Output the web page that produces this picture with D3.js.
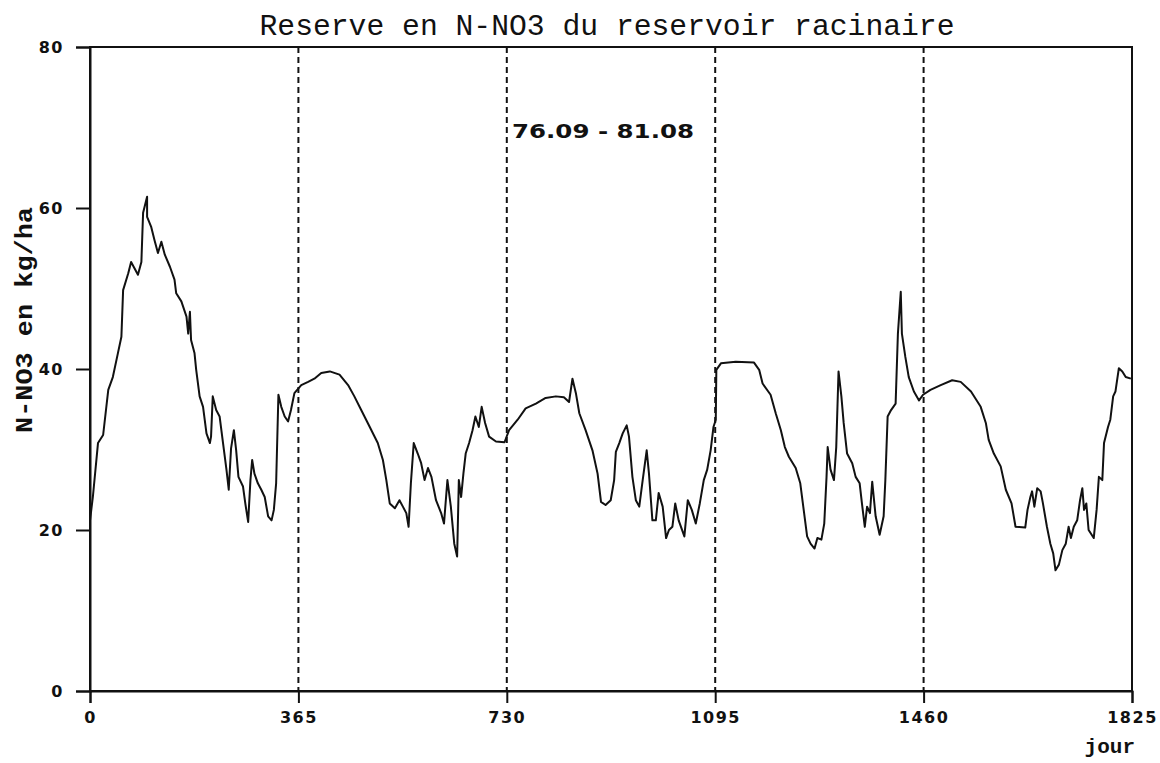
<!DOCTYPE html>
<html>
<head>
<meta charset="utf-8">
<script src="https://cdn.jsdelivr.net/npm/d3@7"></script>
<style>
  html, body { margin: 0; padding: 0; background: #fff; }
  svg { display: block; }
</style>
</head>
<body>
<svg id="chart" width="1160" height="763"></svg>
<script>
// Daily N-NO3 stock in the root-zone reservoir (kg/ha), days 0..1825
const days = [
  0, 5, 14, 23, 32, 40, 49, 55, 58, 67, 72, 84, 90, 93, 100, 100, 107, 113, 119, 125,
  131, 140, 148, 151, 160, 169, 172, 175, 177, 183, 186, 192, 198, 204, 210, 212, 215, 221, 227, 233,
  239, 243, 247, 252, 256, 260, 268, 272, 277, 281, 284, 288, 294, 300, 306, 312, 318, 322, 326, 330,
  335, 341, 347, 352, 358, 370, 382, 393, 405, 420, 437, 452, 463, 475, 490, 504, 513, 519, 525, 534,
  542, 548, 554, 558, 562, 567, 574, 580, 586, 592, 598, 606, 615, 620, 626, 632, 638, 643, 646, 650,
  654, 658, 664, 670, 675, 681, 686, 692, 699, 711, 726, 734, 749, 763, 781, 798, 816, 830, 839, 845,
  851, 857, 868, 880, 889, 895, 903, 912, 918, 921, 927, 933, 940, 944, 950, 956, 962, 968, 975, 979,
  985, 991, 996, 1003, 1009, 1014, 1020, 1025, 1031, 1041, 1047, 1054, 1061, 1068, 1075, 1081, 1087, 1092, 1096, 1097,
  1105, 1131, 1163, 1172, 1178, 1192, 1201, 1210, 1217, 1224, 1236, 1244, 1250, 1256, 1262, 1269, 1274, 1281, 1286, 1290,
  1292, 1297, 1303, 1307, 1311, 1316, 1320, 1326, 1335, 1341, 1348, 1352, 1357, 1361, 1366, 1370, 1376, 1383, 1390, 1393,
  1397, 1403, 1411, 1415, 1420, 1422, 1428, 1434, 1443, 1452, 1459, 1472, 1490, 1510, 1525, 1543, 1560, 1569, 1574, 1583,
  1595, 1604, 1614, 1621, 1638, 1642, 1647, 1650, 1654, 1659, 1665, 1669, 1676, 1682, 1687, 1691, 1697, 1703, 1709, 1714,
  1718, 1723, 1729, 1734, 1738, 1741, 1745, 1749, 1758, 1763, 1767, 1773, 1776, 1783, 1787, 1792, 1796, 1802, 1808, 1814,
  1823
];
const stock = [
  21.2, 24.1, 30.8, 31.8, 37.4, 39.0, 42.0, 44.0, 49.8, 51.9, 53.3, 51.7, 53.3, 59.4, 61.4, 58.9, 57.7, 56.0, 54.4, 55.8,
  54.2, 52.7, 51.1, 49.4, 48.4, 46.5, 44.4, 47.1, 43.6, 42.0, 39.9, 36.6, 35.3, 32.0, 30.8, 31.6, 36.6, 34.9, 34.1, 30.8,
  27.5, 25.0, 30.1, 32.4, 29.9, 26.6, 25.4, 23.3, 21.0, 26.2, 28.7, 27.0, 25.8, 25.0, 24.1, 21.7, 21.2, 22.5, 25.8, 36.8,
  35.3, 34.1, 33.5, 34.9, 37.0, 38.0, 38.4, 38.8, 39.5, 39.7, 39.3, 38.0, 36.6, 34.9, 32.8, 30.8, 28.7, 26.2, 23.3, 22.7,
  23.7, 22.9, 22.1, 20.4, 25.8, 30.8, 29.5, 28.3, 26.2, 27.7, 26.6, 23.7, 22.1, 20.8, 26.2, 22.9, 18.3, 16.7, 26.2, 24.1,
  27.0, 29.5, 30.8, 32.4, 34.1, 32.8, 35.3, 33.3, 31.6, 31.0, 30.9, 32.4, 33.7, 35.1, 35.7, 36.4, 36.6, 36.5, 35.9, 38.8,
  37.0, 34.5, 32.4, 29.9, 27.0, 23.5, 23.1, 23.7, 26.2, 29.7, 30.8, 32.0, 33.0, 31.6, 26.6, 23.7, 22.9, 26.2, 29.9, 27.0,
  21.2, 21.2, 24.6, 22.9, 19.0, 20.0, 20.4, 23.3, 21.2, 19.2, 23.7, 22.5, 20.8, 23.3, 26.2, 27.5, 29.9, 32.8, 33.7, 39.9,
  40.7, 40.9, 40.8, 39.9, 38.2, 36.8, 34.5, 32.4, 30.3, 29.1, 27.7, 25.8, 22.5, 19.2, 18.3, 17.7, 19.0, 18.8, 20.8, 26.6,
  30.3, 27.5, 26.2, 30.3, 39.7, 36.6, 33.3, 29.5, 28.3, 26.6, 25.8, 23.3, 20.4, 22.9, 22.1, 26.0, 21.7, 19.4, 21.7, 26.2,
  34.1, 34.9, 35.7, 44.4, 49.6, 44.4, 41.5, 39.0, 37.2, 36.1, 36.8, 37.4, 38.0, 38.6, 38.4, 37.2, 35.3, 33.3, 31.2, 29.5,
  27.9, 25.0, 23.3, 20.4, 20.3, 22.5, 24.1, 24.8, 22.9, 25.2, 24.8, 23.3, 20.4, 18.3, 17.1, 15.0, 15.7, 17.5, 18.3, 20.4,
  19.0, 20.4, 21.2, 23.7, 25.2, 22.5, 23.3, 20.0, 19.0, 22.5, 26.6, 26.2, 30.8, 32.8, 33.7, 36.6, 37.2, 40.1, 39.7, 39.0,
  38.8
];
const xTicks = [0, 365, 730, 1095, 1460, 1825];
const yTicks = [0, 20, 40, 60, 80];
const yearMarks = [365, 730, 1095, 1460];
const titleText = "Reserve en N-NO3 du reservoir racinaire";
const periodText = "76.09 - 81.08";
const xLabel = "jour";
const yLabel = "N-NO3 en kg/ha";

const svg = d3.select("#chart");
const plotLeft = 90, plotRight = 1132, plotTop = 47, plotBottom = 691;

const x = d3.scaleLinear().domain([0, 1825]).range([plotLeft, plotRight]);
const y = d3.scaleLinear().domain([0, 80]).range([plotBottom, plotTop]);

const ink = "#111";
const mono = "'Courier New', Courier, 'Liberation Mono', monospace";
const sans = "'DejaVu Sans', 'Liberation Sans', sans-serif";

// Year separators
svg.append("g").selectAll("line").data(yearMarks).join("line")
  .attr("x1", d => x(d)).attr("x2", d => x(d))
  .attr("y1", y(80)).attr("y2", y(0))
  .attr("stroke", ink).attr("stroke-width", 2)
  .attr("stroke-dasharray", "6,4");

// Frame
svg.append("rect")
  .attr("x", plotLeft).attr("y", plotTop)
  .attr("width", plotRight - plotLeft).attr("height", plotBottom - plotTop)
  .attr("fill", "none").attr("stroke", ink).attr("stroke-width", 2);

// Axes
const xAxis = svg.append("g")
  .attr("transform", `translate(0,${plotBottom})`)
  .call(d3.axisBottom(x).tickValues(xTicks).tickSize(12).tickPadding(9).tickFormat(d3.format("d")));
const yAxis = svg.append("g")
  .attr("transform", `translate(${plotLeft},0)`)
  .call(d3.axisLeft(y).tickValues(yTicks).tickSize(14).tickPadding(12).tickFormat(d3.format("d")));

[xAxis, yAxis].forEach(g => {
  g.select(".domain").attr("stroke", ink).attr("stroke-width", 2);
  g.selectAll(".tick line").attr("stroke", ink).attr("stroke-width", 2);
  g.selectAll(".tick text")
    .attr("fill", ink)
    .style("font-family", sans)
    .style("font-weight", "bold")
    .style("font-size", "16px")
    .style("letter-spacing", "1.5px");
});

// Series
const line = d3.line()
  .x((d, i) => x(days[i]))
  .y(d => y(d));
svg.append("path")
  .datum(stock)
  .attr("d", line)
  .attr("fill", "none")
  .attr("stroke", ink)
  .attr("stroke-width", 2)
  .attr("stroke-linejoin", "round");

// Title
svg.append("text")
  .attr("x", 607).attr("y", 35)
  .attr("text-anchor", "middle")
  .attr("textLength", 695).attr("lengthAdjust", "spacingAndGlyphs")
  .style("font-family", mono).style("font-size", "29px")
  .attr("fill", ink)
  .text(titleText);

// Period annotation
svg.append("text")
  .attr("x", 512).attr("y", 138)
  .attr("textLength", 182).attr("lengthAdjust", "spacingAndGlyphs")
  .style("font-family", sans).style("font-size", "19px").style("font-weight", "bold")
  .attr("fill", ink)
  .text(periodText);

// Axis titles
svg.append("text")
  .attr("x", 1135).attr("y", 753)
  .attr("text-anchor", "end")
  .style("font-family", mono).style("font-size", "21px").style("font-weight", "bold")
  .attr("fill", ink)
  .text(xLabel);

svg.append("text")
  .attr("transform", "translate(32,320) rotate(-90)")
  .attr("text-anchor", "middle")
  .attr("textLength", 226).attr("lengthAdjust", "spacingAndGlyphs")
  .style("font-family", mono).style("font-size", "23px").style("font-weight", "bold")
  .attr("fill", ink)
  .text(yLabel);
</script>
</body>
</html>
